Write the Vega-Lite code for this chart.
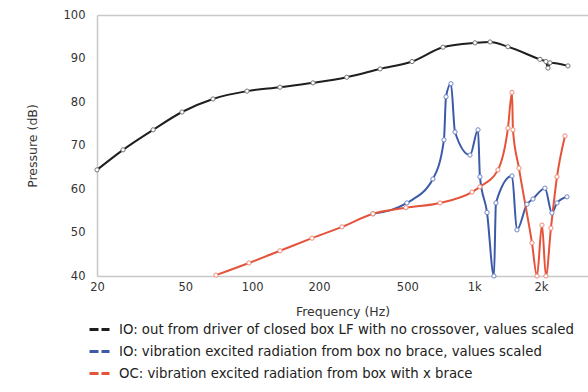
{
  "$schema": "https://vega.github.io/schema/vega-lite/v6.json",
  "width": 491,
  "height": 261,
  "autosize": {"type": "none"},
  "padding": {"left": 97, "top": 15, "right": 0, "bottom": 116},
  "background": "white",
  "config": {"view": {"stroke": null}, "font": "DejaVu Sans"},
  "data": {
    "values": [
      {"series": "IO: out from driver of closed box LF with no crossover, values scaled", "freq": 20, "db": 64.4},
      {"series": "IO: out from driver of closed box LF with no crossover, values scaled", "freq": 26.2, "db": 69.0},
      {"series": "IO: out from driver of closed box LF with no crossover, values scaled", "freq": 35.8, "db": 73.6},
      {"series": "IO: out from driver of closed box LF with no crossover, values scaled", "freq": 48.3, "db": 77.7},
      {"series": "IO: out from driver of closed box LF with no crossover, values scaled", "freq": 66.6, "db": 80.7},
      {"series": "IO: out from driver of closed box LF with no crossover, values scaled", "freq": 94.8, "db": 82.5},
      {"series": "IO: out from driver of closed box LF with no crossover, values scaled", "freq": 133.5, "db": 83.4},
      {"series": "IO: out from driver of closed box LF with no crossover, values scaled", "freq": 188, "db": 84.4},
      {"series": "IO: out from driver of closed box LF with no crossover, values scaled", "freq": 267, "db": 85.7},
      {"series": "IO: out from driver of closed box LF with no crossover, values scaled", "freq": 377, "db": 87.6},
      {"series": "IO: out from driver of closed box LF with no crossover, values scaled", "freq": 525, "db": 89.3},
      {"series": "IO: out from driver of closed box LF with no crossover, values scaled", "freq": 724, "db": 92.6},
      {"series": "IO: out from driver of closed box LF with no crossover, values scaled", "freq": 1009, "db": 93.6},
      {"series": "IO: out from driver of closed box LF with no crossover, values scaled", "freq": 1180, "db": 93.8},
      {"series": "IO: out from driver of closed box LF with no crossover, values scaled", "freq": 1420, "db": 92.7},
      {"series": "IO: out from driver of closed box LF with no crossover, values scaled", "freq": 1979, "db": 89.8},
      {"series": "IO: out from driver of closed box LF with no crossover, values scaled", "freq": 2106, "db": 89.3},
      {"series": "IO: out from driver of closed box LF with no crossover, values scaled", "freq": 2151, "db": 87.8},
      {"series": "IO: out from driver of closed box LF with no crossover, values scaled", "freq": 2196, "db": 89.0},
      {"series": "IO: out from driver of closed box LF with no crossover, values scaled", "freq": 2646, "db": 88.3},
      {"series": "IO: vibration excited radiation from box no brace, values scaled", "freq": 350, "db": 54.3},
      {"series": "IO: vibration excited radiation from box no brace, values scaled", "freq": 498, "db": 56.8},
      {"series": "IO: vibration excited radiation from box no brace, values scaled", "freq": 652, "db": 62.3},
      {"series": "IO: vibration excited radiation from box no brace, values scaled", "freq": 731, "db": 71.3},
      {"series": "IO: vibration excited radiation from box no brace, values scaled", "freq": 747, "db": 81.2},
      {"series": "IO: vibration excited radiation from box no brace, values scaled", "freq": 786, "db": 84.2},
      {"series": "IO: vibration excited radiation from box no brace, values scaled", "freq": 820, "db": 73.1},
      {"series": "IO: vibration excited radiation from box no brace, values scaled", "freq": 958, "db": 67.8},
      {"series": "IO: vibration excited radiation from box no brace, values scaled", "freq": 1041, "db": 73.6},
      {"series": "IO: vibration excited radiation from box no brace, values scaled", "freq": 1062, "db": 62.8},
      {"series": "IO: vibration excited radiation from box no brace, values scaled", "freq": 1143, "db": 54.6},
      {"series": "IO: vibration excited radiation from box no brace, values scaled", "freq": 1228, "db": 40.0},
      {"series": "IO: vibration excited radiation from box no brace, values scaled", "freq": 1254, "db": 56.8},
      {"series": "IO: vibration excited radiation from box no brace, values scaled", "freq": 1481, "db": 63.0},
      {"series": "IO: vibration excited radiation from box no brace, values scaled", "freq": 1559, "db": 50.6},
      {"series": "IO: vibration excited radiation from box no brace, values scaled", "freq": 1730, "db": 56.5},
      {"series": "IO: vibration excited radiation from box no brace, values scaled", "freq": 1841, "db": 57.7},
      {"series": "IO: vibration excited radiation from box no brace, values scaled", "freq": 2084, "db": 60.2},
      {"series": "IO: vibration excited radiation from box no brace, values scaled", "freq": 2241, "db": 54.5},
      {"series": "IO: vibration excited radiation from box no brace, values scaled", "freq": 2362, "db": 56.8},
      {"series": "IO: vibration excited radiation from box no brace, values scaled", "freq": 2620, "db": 58.2},
      {"series": "OC: vibration excited radiation from box with x brace", "freq": 68.7, "db": 40.2},
      {"series": "OC: vibration excited radiation from box with x brace", "freq": 96.7, "db": 43.0},
      {"series": "OC: vibration excited radiation from box with x brace", "freq": 133.5, "db": 45.8},
      {"series": "OC: vibration excited radiation from box with x brace", "freq": 186, "db": 48.7},
      {"series": "OC: vibration excited radiation from box with x brace", "freq": 254, "db": 51.3},
      {"series": "OC: vibration excited radiation from box with x brace", "freq": 350, "db": 54.3},
      {"series": "OC: vibration excited radiation from box with x brace", "freq": 493, "db": 55.7},
      {"series": "OC: vibration excited radiation from box with x brace", "freq": 702, "db": 56.8},
      {"series": "OC: vibration excited radiation from box with x brace", "freq": 978, "db": 59.3},
      {"series": "OC: vibration excited radiation from box with x brace", "freq": 1062, "db": 60.5},
      {"series": "OC: vibration excited radiation from box with x brace", "freq": 1280, "db": 64.4},
      {"series": "OC: vibration excited radiation from box with x brace", "freq": 1420, "db": 74.0},
      {"series": "OC: vibration excited radiation from box with x brace", "freq": 1481, "db": 82.2},
      {"series": "OC: vibration excited radiation from box with x brace", "freq": 1496, "db": 73.6},
      {"series": "OC: vibration excited radiation from box with x brace", "freq": 1592, "db": 64.8},
      {"series": "OC: vibration excited radiation from box with x brace", "freq": 1822, "db": 47.6},
      {"series": "OC: vibration excited radiation from box with x brace", "freq": 1919, "db": 40.0},
      {"series": "OC: vibration excited radiation from box with x brace", "freq": 2021, "db": 51.7},
      {"series": "OC: vibration excited radiation from box with x brace", "freq": 2106, "db": 40.0},
      {"series": "OC: vibration excited radiation from box with x brace", "freq": 2218, "db": 51.0},
      {"series": "OC: vibration excited radiation from box with x brace", "freq": 2362, "db": 62.8},
      {"series": "OC: vibration excited radiation from box with x brace", "freq": 2566, "db": 72.2}
    ]
  },
  "encoding": {
    "x": {
      "field": "freq",
      "type": "quantitative",
      "scale": {"type": "log", "domain": [20, 3258], "nice": false},
      "axis": {
        "title": "Frequency  (Hz)",
        "values": [20, 50, 100, 200, 500, 1000, 2000],
        "labelExpr": "datum.value >= 1000 ? (datum.value / 1000) + 'k' : datum.label",
        "ticks": false,
        "grid": false,
        "labelPadding": 5,
        "labelFontSize": 11.5,
        "labelColor": "#333333",
        "labelOverlap": false,
        "labelFlush": false,
        "titlePadding": 13,
        "titleFontSize": 12.5,
        "titleFontWeight": "normal",
        "titleColor": "#333333",
        "domainColor": "#c8c8c8",
        "domainWidth": 1.5
      }
    },
    "y": {
      "field": "db",
      "type": "quantitative",
      "scale": {"domain": [40, 100], "nice": false},
      "axis": {
        "title": "Pressure  (dB)",
        "values": [40, 50, 60, 70, 80, 90, 100],
        "ticks": false,
        "grid": true,
        "gridColor": "#c8c8c8",
        "gridWidth": 1.5,
        "gridOpacity": {"condition": {"test": "datum.value == 100", "value": 1}, "value": 0},
        "labelPadding": 12,
        "labelFontSize": 11.5,
        "labelColor": "#333333",
        "titlePadding": 24,
        "titleFontSize": 12.5,
        "titleFontWeight": "normal",
        "titleColor": "#333333",
        "domainColor": "#c8c8c8",
        "domainWidth": 1.5
      }
    }
  },
  "layer": [
    {
      "mark": {"type": "line", "interpolate": "monotone", "strokeWidth": 2},
      "encoding": {
        "color": {
          "field": "series",
          "type": "nominal",
          "scale": {
            "domain": [
              "IO: out from driver of closed box LF with no crossover, values scaled",
              "IO: vibration excited radiation from box no brace, values scaled",
              "OC: vibration excited radiation from box with x brace"
            ],
            "range": ["#1e1e1e", "#3c5aa8", "#e5533b"]
          },
          "legend": {
            "orient": "none",
            "legendX": -9,
            "legendY": 303,
            "title": null,
            "symbolType": "stroke",
            "symbolSize": 400,
            "symbolStrokeWidth": 3,
            "symbolDash": [9, 3],
            "labelFontSize": 13.3,
            "labelLimit": 700,
            "labelColor": "#222222",
            "labelOffset": 8,
            "rowPadding": 4
          }
        }
      }
    },
    {
      "mark": {"type": "point", "filled": false, "fill": "white", "shape": "circle", "size": 18, "strokeWidth": 1, "opacity": 1},
      "encoding": {
        "stroke": {
          "field": "series",
          "type": "nominal",
          "scale": {
            "domain": [
              "IO: out from driver of closed box LF with no crossover, values scaled",
              "IO: vibration excited radiation from box no brace, values scaled",
              "OC: vibration excited radiation from box with x brace"
            ],
            "range": ["#777777", "#6f86c4", "#ee8a78"]
          },
          "legend": null
        }
      }
    }
  ]
}
